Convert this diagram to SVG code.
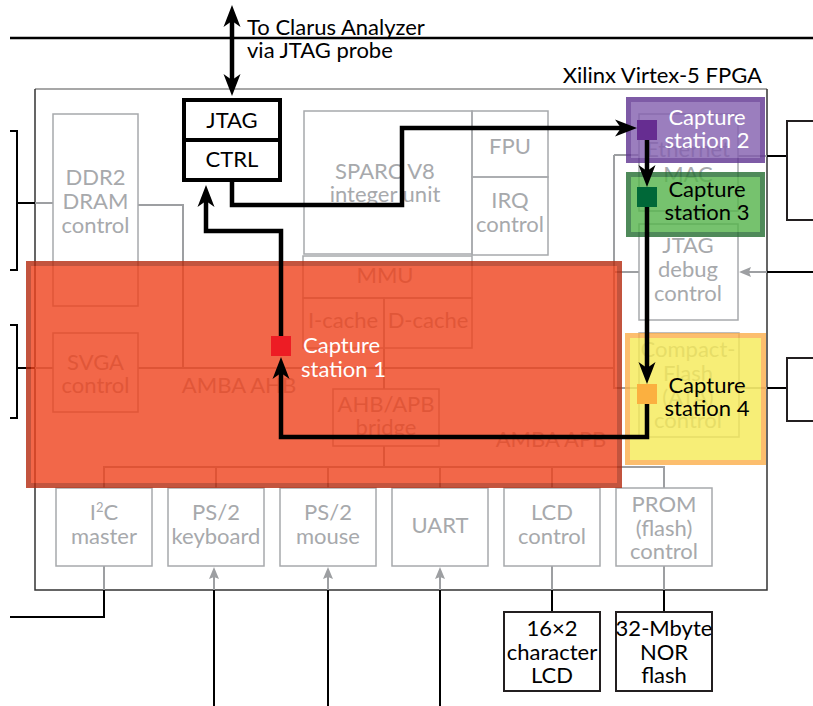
<svg xmlns="http://www.w3.org/2000/svg" width="813" height="706" viewBox="0 0 813 706">
<style>
text{font-family:Lato,"Open Sans","Liberation Sans",sans-serif;font-size:22px}
.g{fill:#a7a9ac;text-anchor:middle}
.k{fill:#000;text-anchor:middle}
.w{fill:#fff}
.box{fill:none;stroke:#a7a9ac;stroke-width:1.5}
.gl{fill:none;stroke:#9d9fa2;stroke-width:2}
.bl{fill:none;stroke:#000;stroke-width:2}
.tr{fill:none;stroke:#000;stroke-width:4.5;stroke-linejoin:miter;stroke-linecap:butt}
.ext{fill:#fff;stroke:#231f20;stroke-width:2}
</style>
<defs>
<marker id="ah" markerUnits="userSpaceOnUse" markerWidth="24" markerHeight="20" viewBox="0 -10 24 20" refX="14" refY="0" orient="auto-start-reverse">
<path d="M24,0 L2,-8.5 L8,0 L2,8.5 Z" fill="#000"/>
</marker>
<marker id="ga" markerUnits="userSpaceOnUse" markerWidth="14" markerHeight="12" viewBox="0 -6 14 12" refX="6" refY="0" orient="auto">
<path d="M13,0 L1,-5 L3,0 L1,5 Z" fill="#9d9fa2"/>
</marker>
</defs>

<!-- top line and FPGA outline -->
<g id="fpga">
<path d="M10,38 H813" stroke="#000" stroke-width="2.5" fill="none"/>
<path d="M35,89 H767" stroke="#8a8a8a" stroke-width="1.5" fill="none"/>
<path d="M35,89 V590 H767 V89" stroke="#333" stroke-width="1.5" fill="none"/>
<text x="762" y="83" text-anchor="end" fill="#000">Xilinx Virtex-5 FPGA</text>
<text x="247" y="35" fill="#000">To Clarus Analyzer</text>
<text x="247" y="58" fill="#000">via JTAG probe</text>
</g>

<!-- gray internal connectors -->
<g id="connectors">
<path class="gl" d="M138,205 H183 V368"/>
<path class="gl" d="M138,368 H614"/>
<path class="gl" d="M614,155 V388 H639"/>
<path class="gl" d="M614,155 H639"/>
<path class="gl" d="M614,272 H639"/>
<path class="gl" d="M384,348 V389"/>
<path class="gl" d="M384,446 V467"/>
<path class="gl" d="M104,488 V467 H664 V488"/>
<path class="gl" d="M216,467 V488 M328,467 V488 M440,467 V488 M552,467 V488"/>
<!-- external -->
<path class="bl" d="M10,131 H17 V270 H10 M17,203 H35"/>
<path class="gl" d="M35,203 H53"/>
<path class="bl" d="M10,325 H17 V418 H10 M17,368 H35"/>
<path class="gl" d="M35,368 H53"/>
<path class="gl" d="M104,566 V590"/>
<path class="bl" d="M104,590 V617 H10"/>
<path class="bl" d="M214,706 V590 M328,706 V590 M440,706 V590"/>
<path class="gl" d="M214,590 V574" marker-end="url(#ga)"/>
<path class="gl" d="M328,590 V574" marker-end="url(#ga)"/>
<path class="gl" d="M440,590 V574" marker-end="url(#ga)"/>
<path class="gl" d="M552,566 V590 M664,566 V590"/>
<path class="bl" d="M552,590 V612 M664,590 V612"/>
<path class="gl" d="M738,156 H767 M739,388 H767"/>
<path class="bl" d="M767,156 H787 M767,388 H787 M813,272 H767"/>
<path class="gl" d="M767,272 H746" marker-end="url(#ga)"/>
</g>

<!-- gray blocks -->
<g id="ddr2"><rect class="box" x="53" y="114" width="85" height="192"/>
<text class="g" x="95.5" y="185">DDR2</text><text class="g" x="95.5" y="209">DRAM</text><text class="g" x="95.5" y="233">control</text></g>
<g id="sparc"><rect class="box" x="304" y="111" width="168" height="143"/>
<text class="g" x="385" y="179">SPARC V8</text><text class="g" x="385" y="202">integer unit</text></g>
<g id="fpu"><rect class="box" x="472" y="111" width="76" height="66"/><text class="g" x="510" y="154">FPU</text></g>
<g id="irq"><rect class="box" x="472" y="177" width="76" height="78"/>
<text class="g" x="510" y="208">IRQ</text><text class="g" x="510" y="232">control</text></g>
<g id="mmu"><rect class="box" x="303" y="256" width="169" height="42"/><text class="g" x="385" y="283">MMU</text></g>
<g id="icache"><rect class="box" x="303" y="298" width="81" height="50"/><text class="g" x="343" y="328">I-cache</text></g>
<g id="dcache"><rect class="box" x="384" y="298" width="88" height="50"/><text class="g" x="428" y="328">D-cache</text></g>
<g id="svga"><rect class="box" x="53" y="333" width="85" height="79"/>
<text class="g" x="95.5" y="370">SVGA</text><text class="g" x="95.5" y="393">control</text></g>
<g id="ahb"><text class="g" x="239" y="393">AMBA AHB</text></g>
<g id="bridge"><rect class="box" x="333" y="389" width="106" height="57"/>
<text class="g" x="386" y="412">AHB/APB</text><text class="g" x="386" y="435">bridge</text></g>
<g id="apb"><text class="g" x="551" y="447">AMBA APB</text></g>
<g id="eth"><rect class="box" x="639" y="114" width="99" height="97"/>
<text class="g" x="688" y="157">Ethernet</text><text class="g" x="688" y="182">MAC</text></g>
<g id="jtagdbg"><rect class="box" x="639" y="224" width="99" height="96"/>
<text class="g" x="688" y="253">JTAG</text><text class="g" x="688" y="277">debug</text><text class="g" x="688" y="301">control</text></g>
<g id="cf"><rect class="box" x="639" y="333" width="100" height="104"/>
<text class="g" x="688" y="357">Compact-</text><text class="g" x="688" y="381">Flash</text><text class="g" x="688" y="405">(ATA)</text><text class="g" x="688" y="428">control</text></g>

<g id="i2c"><rect class="box" x="56" y="488" width="96" height="78"/>
<text class="g" x="104" y="520">I<tspan font-size="13" dy="-8">2</tspan><tspan dy="8">C</tspan></text><text class="g" x="104" y="544">master</text></g>
<g id="kbd"><rect class="box" x="168" y="488" width="96" height="78"/>
<text class="g" x="216" y="520">PS/2</text><text class="g" x="216" y="544">keyboard</text></g>
<g id="mouse"><rect class="box" x="280" y="488" width="96" height="78"/>
<text class="g" x="328" y="520">PS/2</text><text class="g" x="328" y="544">mouse</text></g>
<g id="uart"><rect class="box" x="392" y="488" width="96" height="78"/><text class="g" x="440" y="533">UART</text></g>
<g id="lcdc"><rect class="box" x="504" y="488" width="96" height="78"/>
<text class="g" x="552" y="520">LCD</text><text class="g" x="552" y="544">control</text></g>
<g id="prom"><rect class="box" x="616" y="488" width="96" height="78"/>
<text class="g" x="664" y="512">PROM</text><text class="g" x="664" y="536">(flash)</text><text class="g" x="664" y="559">control</text></g>

<!-- overlays -->
<g id="overlay-ahb"><rect x="28.5" y="263.5" width="591" height="222" fill="#ef421c" stroke="#b52a0e" stroke-width="5" opacity="0.8"/></g>
<g id="overlay-cs2"><rect x="628.5" y="99.5" width="134" height="61" fill="#835eaf" stroke="#5f3391" stroke-width="5" opacity="0.8"/></g>
<g id="overlay-cs3"><rect x="628.5" y="174.5" width="134" height="60" fill="#54b34a" stroke="#246d32" stroke-width="5" opacity="0.8"/></g>
<g id="overlay-cs4"><rect x="627.5" y="335.5" width="136" height="127" fill="#f6ea56" stroke="#fcaf4a" stroke-width="5" opacity="0.8"/></g>

<!-- external boxes -->
<g id="ext-right1"><rect class="ext" x="787" y="121" width="40" height="99"/></g>
<g id="ext-right2"><rect class="ext" x="787" y="358" width="40" height="63"/></g>
<g id="lcd"><rect class="ext" x="504" y="612" width="96" height="79"/>
<text class="k" x="552" y="636">16×2</text><text class="k" x="552" y="660">character</text><text class="k" x="552" y="683">LCD</text></g>
<g id="nor"><rect class="ext" x="616" y="612" width="96" height="79"/>
<text class="k" x="664" y="636">32-Mbyte</text><text class="k" x="664" y="660">NOR</text><text class="k" x="664" y="683">flash</text></g>

<!-- trace connectors -->
<g id="trace">
<path class="tr" d="M232,15 V86" marker-start="url(#ah)" marker-end="url(#ah)"/>
<path class="tr" d="M647,404 V437 H281 V367" marker-end="url(#ah)"/>
<path class="tr" d="M281,336 V231 H206 V195" marker-end="url(#ah)"/>
<path class="tr" d="M232,182 V205 H402 V128 H627" marker-end="url(#ah)"/>
<path class="tr" d="M647,140 V177" marker-end="url(#ah)"/>
<path class="tr" d="M647,207 V374" marker-end="url(#ah)"/>
</g>

<!-- JTAG CTRL -->
<g id="jtag"><rect x="184" y="100" width="96" height="80" fill="#fff" stroke="#000" stroke-width="4"/>
<path d="M184,140 H280" stroke="#000" stroke-width="4"/>
<text class="k" x="232" y="128">JTAG</text><text class="k" x="232" y="167">CTRL</text></g>

<!-- capture stations -->
<g id="cs1"><rect x="271" y="336" width="20" height="20" fill="#ed1c24"/>
<text class="w" x="303" y="353">Capture</text><text class="w" x="301" y="377">station 1</text></g>
<g id="cs2"><rect x="637" y="120" width="20" height="20" fill="#662d91"/>
<text class="w" x="707" y="125" text-anchor="middle">Capture</text><text class="w" x="707" y="148" text-anchor="middle">station 2</text></g>
<g id="cs3"><rect x="637" y="187" width="20" height="20" fill="#006838"/>
<text class="k" x="707" y="197">Capture</text><text class="k" x="707" y="220">station 3</text></g>
<g id="cs4"><rect x="637" y="384" width="20" height="20" fill="#fbb040"/>
<text class="k" x="707" y="393">Capture</text><text class="k" x="707" y="416">station 4</text></g>
</svg>
